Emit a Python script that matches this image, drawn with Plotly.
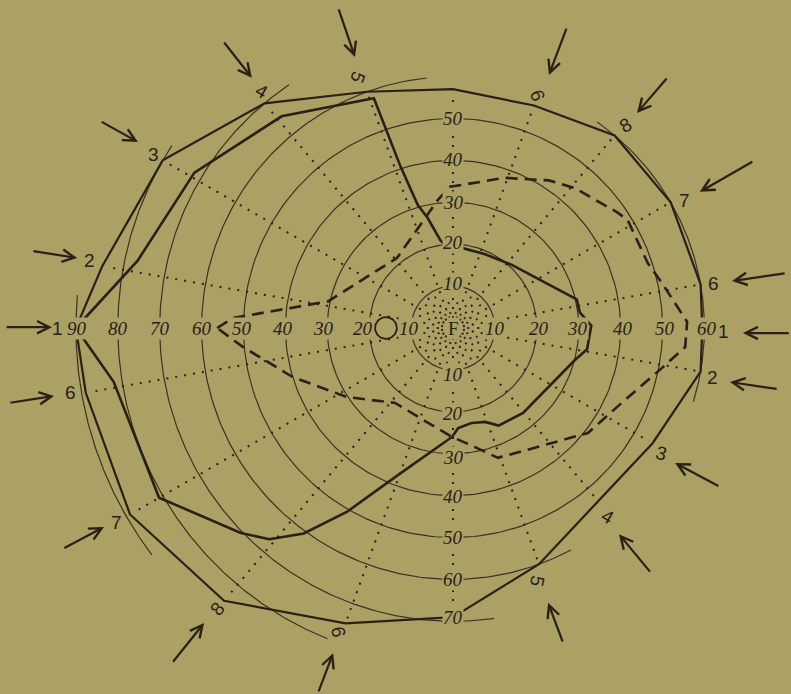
import numpy as np
import plotly.graph_objects as go

# ---------------- data (meridian angle in degrees, eccentricity in degrees) ----------------
OUTER_ANG = [180, 170, 150, 130, 110, 90, 70, 50, 30, 10, 0, -10, -30, -50, -70, -90, -110, -130, -150, -170, -180]
OUTER_ECC = [90, 85, 80, 70, 60, 57, 56.5, 60, 60, 60, 59.5, 60, 55, 54, 60, 69, 75, 85, 89, 89, 90]

INNER_ANG = [180, 168, 149, 129, 109, 108, 106, 103, 98, 95, 86.5, 67, 47, 13, 7, 1, -9, -15, -50.5,
             -65, -71, -79, -87, -90.5, -110, -120, -126, -131, -136, -150, -171, -180]
INNER_ECC = [90, 77, 72, 65, 58, 40.5, 30.6, 27, 21, 20, 19.4, 19.2, 20.6, 30.3, 30.5, 33, 32.4, 30, 26.3,
             25.7, 23.7, 23.1, 23.9, 26, 37, 50.7, 60.6, 66.8, 70.4, 81, 82, 90]

DASH_ANG = [180, 177.4, 168, 128.7, 96.7, 91.2, 71, 57, 48.9, 35, 31.7, 18.4, 12.2, 1.5, -4.7, -10.8,
            -22.7, -37.9, -49.3, -70.9, -79.5, -90.5, -104.7, -127.7, -146.9, -163, -174.8, -180]
DASH_ECC = [56.3, 52.6, 30.5, 21.4, 30.8, 33.7, 37.9, 42, 44.3, 48, 49, 49, 51, 55.9, 55.6, 50.8,
            44.5, 40.8, 36.2, 32.8, 28.9, 26, 23.4, 22.6, 30.2, 40, 50.3, 56.3]

BLIND_SPOT_ANG = 180
BLIND_SPOT_ECC = 16
BLIND_SPOT_RADIUS = 2.6

RINGS = [10, 20, 30, 40, 50, 60, 70, 80, 90]
RING_ARCS = {10: [(0, 360)], 20: [(0, 360)], 30: [(0, 360)], 40: [(0, 360)], 50: [(0, 360)],
             60: [(-17, 55), (96, 298)], 70: [(124, 278)], 80: [(147, 248)], 90: [(175, 217)]}

MERIDIANS = [10, 30, 50, 70, 90, 110, 130, 150, 170, -10, -30, -50, -70, -90, -110, -130, -150, -170]
INNER_MERIDIANS = [0, 20, 40, 60, 80, 100, 120, 140, 160, 180, -20, -40, -60, -80, -100, -120, -140, -160]

LEFT_TICKS = ["90", "80", "70", "60", "50", "40", "30", "20", "10"]
LEFT_ECC = [89.7, 80, 70, 60, 50.4, 40.6, 31, 21.4, 10.4]
RIGHT_TICKS = ["10", "20", "30", "40", "50", "60"]
RIGHT_ECC = [10, 20.5, 29.8, 40.6, 50.6, 60.6]
UP_TICKS = ["10", "20", "30", "40", "50"]
UP_ECC = [10.7, 20.5, 30, 40.3, 50.1]
DOWN_TICKS = ["10", "20", "30", "40", "50", "60", "70"]
DOWN_ECC = [11.2, 20.3, 30.8, 40.3, 50.1, 60.1, 69.2]

NUM_TEXT = ["1", "2", "3", "4", "5", "9", "8", "7", "6", "1", "2", "3", "4", "5", "9", "8", "7", "6"]
NUM_ANG = [180, 169.4, 150, 129, 110.7, 70, 49.7, 28.9, 9.8, -0.8, -10.9, -30.9, -50.8, -71.7, -110.7, -130, -150, -170.4]
NUM_ECC = [94.3, 88.2, 82.6, 72.5, 64, 59.2, 63.5, 63.2, 63, 64.5, 63, 58.1, 58.2, 63.8, 77.6, 87.4, 92.6, 92.7]
NUM_ROT = [0, 0, 0, 30, 110, -110, -30, 0, 0, 0, 0, 15, 30, 100, -100, -50, 0, 0]

ARROW_TAIL_X = [-106.9, -100.5, -84.2, -54.9, -27.4, 27.2, 51.3, 71.8, 79.5, 80.5, 77.6, 63.7, 47.3, 26.3, -32.2, -67.1, -93.1, -106.0]
ARROW_TAIL_Y = [0.2, 18.4, 49.4, 68.5, 76.4, 71.8, 59.9, 39.9, 13.1, -1.2, -14.6, -37.9, -58.5, -75.2, -87.1, -80.0, -52.7, -17.9]
ARROW_HEAD_X = [-95.7, -89.7, -75.2, -48.0, -23.4, 22.9, 43.9, 58.9, 66.6, 69.2, 66.1, 53.0, 39.6, 22.7, -28.6, -59.4, -83.3, -95.2]
ARROW_HEAD_Y = [0.2, 16.7, 44.4, 59.7, 64.7, 60.4, 51.3, 32.5, 11.2, -1.2, -12.9, -32.2, -49.2, -65.6, -77.6, -70.4, -47.5, -16.2]

# ---------------- styling ----------------
BG = "#aba165"
INK = "#2a2016"
INK_THIN = "#3b3222"
SERIF = "Liberation Serif, DejaVu Serif, serif"
SANS = "Liberation Sans, DejaVu Sans, sans-serif"


def pol(ang, ecc):
    a = np.radians(np.asarray(ang, dtype=float))
    e = np.asarray(ecc, dtype=float)
    return e * np.cos(a), e * np.sin(a)


fig = go.Figure()

# rings
rx, ry = [], []
for r in RINGS:
    for a0, a1 in RING_ARCS[r]:
        t = np.linspace(a0, a1, 240)
        x, y = pol(t, np.full_like(t, r))
        rx += list(x) + [None]
        ry += list(y) + [None]
fig.add_trace(go.Scatter(x=rx, y=ry, mode="lines", line=dict(color=INK_THIN, width=1.2),
                         hoverinfo="skip", showlegend=False))

# dotted meridians
mx, my = [], []
outer_sorted = sorted(zip(OUTER_ANG, OUTER_ECC))
oa = [p[0] for p in outer_sorted]
oe = [p[1] for p in outer_sorted]
for m in MERIDIANS:
    lim = np.interp(m, oa, oe) - 1.0
    if m == 90:
        lim = 55
    x, y = pol([m, m], [2.4, lim])
    mx += list(x) + [None]
    my += list(y) + [None]
fig.add_trace(go.Scatter(x=mx, y=my, mode="lines", line=dict(color=INK, width=2, dash="2px,7px"),
                         hoverinfo="skip", showlegend=False))
ix, iy = [], []
for m in INNER_MERIDIANS:
    x, y = pol([m, m], [3.4, 9.0])
    ix += list(x) + [None]
    iy += list(y) + [None]
fig.add_trace(go.Scatter(x=ix, y=iy, mode="lines", line=dict(color=INK, width=1.8, dash="2px,8px"),
                         hoverinfo="skip", showlegend=False))

# outer polygon
x, y = pol(OUTER_ANG, OUTER_ECC)
fig.add_trace(go.Scatter(x=x, y=y, mode="lines", line=dict(color=INK, width=2.2),
                         hoverinfo="skip", showlegend=False))

# inner solid field
x, y = pol(INNER_ANG, INNER_ECC)
fig.add_trace(go.Scatter(x=x, y=y, mode="lines", line=dict(color=INK, width=2.6),
                         hoverinfo="skip", showlegend=False))

# dashed field
x, y = pol(DASH_ANG, DASH_ECC)
fig.add_trace(go.Scatter(x=x, y=y, mode="lines", line=dict(color=INK, width=2.6, dash="12px,7px"),
                         hoverinfo="skip", showlegend=False))

# blind spot
cx, cy = pol([BLIND_SPOT_ANG], [BLIND_SPOT_ECC])
t = np.radians(np.linspace(0, 360, 80))
fig.add_trace(go.Scatter(x=cx[0] + BLIND_SPOT_RADIUS * np.cos(t), y=cy[0] + BLIND_SPOT_RADIUS * np.sin(t),
                         mode="lines", line=dict(color=INK, width=1.8), hoverinfo="skip", showlegend=False))

ann = []


def tick(txt, ang, ecc):
    x, y = pol([ang], [ecc])
    ann.append(dict(x=x[0], y=y[0], xref="x", yref="y", text="<i>%s</i>" % txt, showarrow=False,
                    font=dict(family=SERIF, size=19, color=INK), bgcolor=BG, borderpad=0))


for t_, e in zip(LEFT_TICKS, LEFT_ECC):
    tick(t_, 180, e)
for t_, e in zip(RIGHT_TICKS, RIGHT_ECC):
    tick(t_, 0, e)
for t_, e in zip(UP_TICKS, UP_ECC):
    tick(t_, 90, e)
for t_, e in zip(DOWN_TICKS, DOWN_ECC):
    tick(t_, -90, e)

ann.append(dict(x=0, y=0, xref="x", yref="y", text="F", showarrow=False,
                font=dict(family=SERIF, size=19, color=INK), bgcolor=BG, borderpad=0))

for txt, a, e, rot in zip(NUM_TEXT, NUM_ANG, NUM_ECC, NUM_ROT):
    x, y = pol([a], [e])
    ann.append(dict(x=x[0], y=y[0], xref="x", yref="y", text=txt, showarrow=False, textangle=rot,
                    font=dict(family=SANS, size=19, color=INK)))

for tx, ty, hx, hy in zip(ARROW_TAIL_X, ARROW_TAIL_Y, ARROW_HEAD_X, ARROW_HEAD_Y):
    ann.append(dict(x=hx, y=hy, ax=tx, ay=ty, xref="x", yref="y", axref="x", ayref="y", text="",
                    showarrow=True, arrowhead=5, arrowsize=1.1, arrowwidth=2.2, arrowcolor=INK, standoff=0))

fig.update_layout(
    width=791, height=694,
    margin=dict(l=0, r=0, t=0, b=0),
    paper_bgcolor=BG, plot_bgcolor=BG,
    xaxis=dict(range=[-453 / 4.19, 338 / 4.19], visible=False, fixedrange=True),
    yaxis=dict(range=[-366 / 4.19, 328 / 4.19], visible=False, fixedrange=True),
    annotations=ann,
    showlegend=False,
)

fig.write_html("out.html", config={"displayModeBar": False},
               post_script="document.body.style.margin='0';document.body.style.background='%s';"
                           "document.documentElement.style.overflow='hidden';" % BG)
